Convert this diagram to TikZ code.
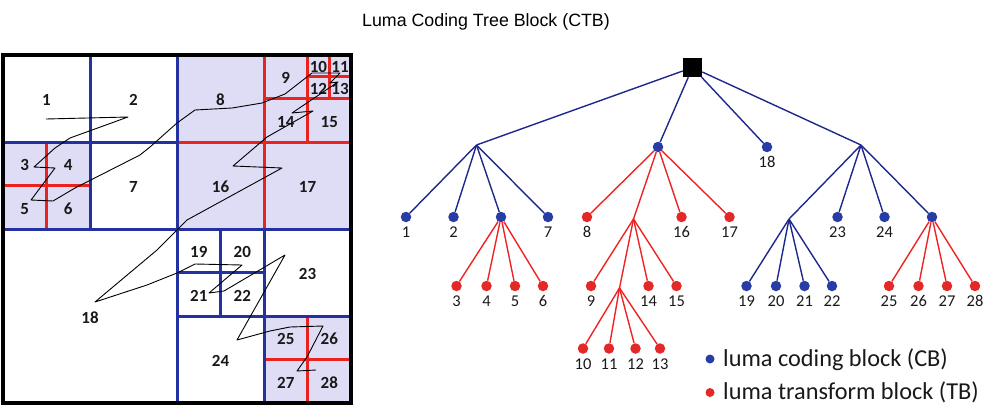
\documentclass[tikz,border=0pt]{standalone}
\usepackage{fontspec}
\setmainfont{Carlito}
\newfontfamily\titlefont{Liberation Sans}
\definecolor{gridblue}{RGB}{35,50,160}
\definecolor{gridred}{RGB}{235,35,30}
\definecolor{lav}{RGB}{222,221,245}
\definecolor{treeblue}{RGB}{30,40,140}
\definecolor{dotblue}{RGB}{40,60,165}
\definecolor{treered}{RGB}{240,35,35}
\definecolor{dotred}{RGB}{228,40,40}
\definecolor{txt}{RGB}{25,25,25}
\newcommand\mytn[5]{%
  \node[treedot, fill=#4] (#1) at (#2,#3) {};
  \node[tl] (#1l) at ([yshift=-20.5pt]#1.center) {#5};}
\begin{document}
\begin{tikzpicture}[x=1pt,y=-1pt,
  blueline/.style={draw=gridblue, line width=3pt},
  redline/.style={draw=gridred, line width=3pt},
  gl/.style={font=\fontsize{17}{20}\selectfont\bfseries, text=txt, inner sep=0pt, yshift=-1.5pt},
  tl/.style={font=\fontsize{16.5}{19}\selectfont, text=txt, inner sep=0pt, anchor=base},
  treedot/.style={circle, inner sep=0pt, minimum size=10.5pt},
  be/.style={draw=treeblue, line width=1.4pt},
  re/.style={draw=treered, line width=1.4pt},
  zline/.style={draw=black, line width=0.9pt, line join=round},
  legtext/.style={font=\fontsize{24.3}{28}\selectfont, text=txt, inner sep=0pt, anchor=base west}]
\useasboundingbox (0,0) rectangle (1000,407);

% title
\node[font=\titlefont\fontsize{17.8}{20}\selectfont, inner sep=0pt, anchor=base] (title) at (486,26.5) {Luma Coding Tree Block (CTB)};

% ---------------- grid ----------------
\fill[lav] (3,142) rectangle (90,229);
\fill[lav] (177,55) rectangle (351,229);
\fill[lav] (264,316) rectangle (351,403);

% red (transform) splits
\draw[redline] (46.5,142) -- (46.5,229);
\draw[redline] (3,185.5) -- (90,185.5);
\draw[redline] (307.5,316) -- (307.5,403);
\draw[redline] (264,359.5) -- (351,359.5);
\draw[redline] (177,142) -- (351,142);
\draw[redline] (264,55) -- (264,229);
\draw[redline] (264,98.5) -- (351,98.5);
\draw[redline] (307.5,55) -- (307.5,142);
\draw[redline] (307.5,76.75) -- (351,76.75);
\draw[redline] (329.25,55) -- (329.25,98.5);

% blue (coding) splits
\draw[blueline] (90,55) -- (90,229);
\draw[blueline] (3,142) -- (177,142);
\draw[blueline] (177,55) -- (177,403);
\draw[blueline] (3,229) -- (351,229);
\draw[blueline] (264,229) -- (264,403);
\draw[blueline] (177,316) -- (351,316);
\draw[blueline] (220.5,229) -- (220.5,316);
\draw[blueline] (177,272.5) -- (264,272.5);

% outer border
\draw[line width=3.2pt] (3,55) rectangle (351,403);

% grid labels
\node[gl] (g1) at (46.5,98.5) {1};
\node[gl] (g2) at (133.5,98.5) {2};
\node[gl] (g3) at (24.75,163.75) {3};
\node[gl] (g4) at (68.25,163.75) {4};
\node[gl] (g5) at (24.75,207.25) {5};
\node[gl] (g6) at (68.25,207.25) {6};
\node[gl] (g7) at (133.5,185.5) {7};
\node[gl] (g8) at (220.5,98.5) {8};
\node[gl] (g9) at (285.75,76.75) {9};
\node[gl] (g10) at (318.4,65.9) {10};
\node[gl] (g11) at (340.1,65.9) {11};
\node[gl] (g12) at (318.4,87.6) {12};
\node[gl] (g13) at (340.1,87.6) {13};
\node[gl] (g14) at (285.75,120.25) {14};
\node[gl] (g15) at (329.25,120.25) {15};
\node[gl] (g16) at (220.5,185.5) {16};
\node[gl] (g17) at (307.5,185.5) {17};
\node[gl] (g18) at (90,316) {18};
\node[gl] (g19) at (198.75,250.75) {19};
\node[gl] (g20) at (242.25,250.75) {20};
\node[gl] (g21) at (198.75,294.25) {21};
\node[gl] (g22) at (242.25,294.25) {22};
\node[gl] (g23) at (307.5,272.5) {23};
\node[gl] (g24) at (220.5,359.5) {24};
\node[gl] (g25) at (285.75,337.75) {25};
\node[gl] (g26) at (329.25,337.75) {26};
\node[gl] (g27) at (285.75,381.25) {27};
\node[gl] (g28) at (329.25,381.25) {28};

% z-scan path
\draw[zline] (46,119) -- (128,117) -- (70,138) -- (55,148) -- (34,167) -- (55,168)
  -- (31,200) -- (53,201) -- (75,188) -- (140,155) -- (150,147) -- (177,123)
  -- (195,110) -- (232,108) -- (262,103) -- (285,94) -- (312,73) -- (340,73)
  -- (330,83) -- (338,82) -- (292,113) -- (313,111) -- (267,137) -- (233,166)
  -- (282,168) -- (187,220) -- (157,250) -- (95,302) -- (147,285) -- (177,273)
  -- (195,264) -- (242,265) -- (209,293) -- (224,291) -- (285,255) -- (237,340)
  -- (270,331) -- (290,327) -- (323,326) -- (307,357) -- (297,371) -- (316,370);

% ---------------- tree ----------------
\node[rectangle, fill=black, inner sep=0pt, minimum size=19pt] (root) at (692.5,67.5) {};
\coordinate (jL) at (476.5,145);
\coordinate (jR) at (861,145);
\coordinate (j9) at (633.5,219);
\coordinate (j10) at (619.5,288);
\coordinate (j19) at (789,219);

\mytn{m}{658}{147}{dotblue}{}
\mytn{n18}{767}{147}{dotblue}{18}

\mytn{n1}{406}{217}{dotblue}{1}
\mytn{n2}{453.5}{217}{dotblue}{2}
\mytn{p36}{501}{217}{dotblue}{}
\mytn{n7}{548}{217}{dotblue}{7}
\mytn{n8}{587}{217}{dotred}{8}
\mytn{n16}{681.5}{217}{dotred}{16}
\mytn{n17}{729.5}{217}{dotred}{17}
\mytn{n23}{837.5}{217}{dotblue}{23}
\mytn{n24}{884.5}{217}{dotblue}{24}
\mytn{p25}{932}{217}{dotblue}{}

\mytn{n3}{456.5}{286}{dotred}{3}
\mytn{n4}{486.5}{286}{dotred}{4}
\mytn{n5}{515}{286}{dotred}{5}
\mytn{n6}{543}{286}{dotred}{6}
\mytn{n9}{591}{286}{dotred}{9}
\mytn{n14}{648.5}{286}{dotred}{14}
\mytn{n15}{676.5}{286}{dotred}{15}
\mytn{n19}{746.5}{286}{dotblue}{19}
\mytn{n20}{776}{286}{dotblue}{20}
\mytn{n21}{804.5}{286}{dotblue}{21}
\mytn{n22}{832}{286}{dotblue}{22}
\mytn{n25}{889}{286}{dotred}{25}
\mytn{n26}{918.5}{286}{dotred}{26}
\mytn{n27}{947}{286}{dotred}{27}
\mytn{n28}{975}{286}{dotred}{28}

\mytn{n10}{583}{348.5}{dotred}{10}
\mytn{n11}{609}{348.5}{dotred}{11}
\mytn{n12}{635.5}{348.5}{dotred}{12}
\mytn{n13}{660}{348.5}{dotred}{13}

\foreach \c in {jL,m,n18,jR} \draw[be] (root) -- (\c);
\foreach \c in {n1,n2,p36,n7} \draw[be] (jL) -- (\c);
\foreach \c in {n3,n4,n5,n6} \draw[re] (p36) -- (\c);
\foreach \c in {n8,j9,n16,n17} \draw[re] (m) -- (\c);
\foreach \c in {n9,j10,n14,n15} \draw[re] (j9) -- (\c);
\foreach \c in {n10,n11,n12,n13} \draw[re] (j10) -- (\c);
\foreach \c in {j19,n23,n24,p25} \draw[be] (jR) -- (\c);
\foreach \c in {n19,n20,n21,n22} \draw[be] (j19) -- (\c);
\foreach \c in {n25,n26,n27,n28} \draw[re] (p25) -- (\c);

% legend
\node[circle, fill=dotblue, inner sep=0pt, minimum size=9pt] (lgb) at (710,359) {};
\node[legtext] (lgbt) at (723,366.5) {luma coding block (CB)};
\node[circle, fill=dotred, inner sep=0pt, minimum size=9pt] (lgr) at (710,392.5) {};
\node[legtext] (lgrt) at (723,399.5) {luma transform block (TB)};
\end{tikzpicture}
\end{document}
